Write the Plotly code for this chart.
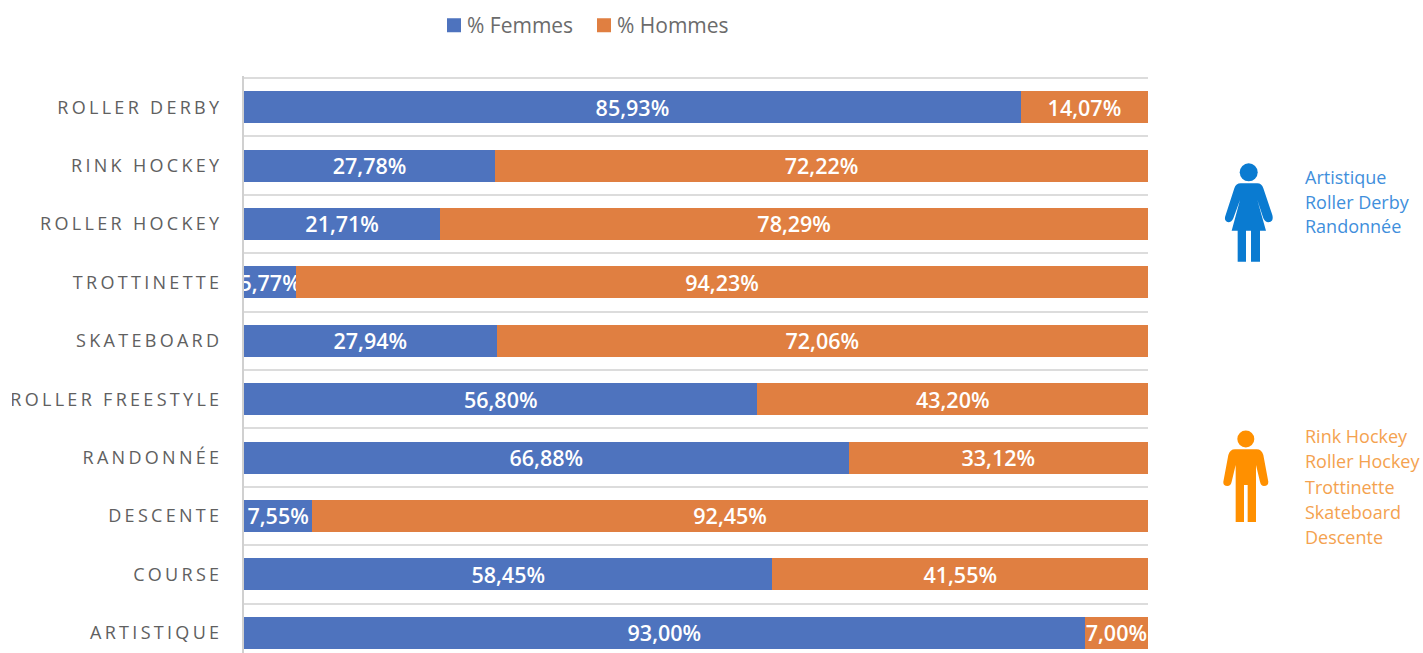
import plotly.graph_objects as go

categories = ["ARTISTIQUE", "COURSE", "DESCENTE", "RANDONNÉE", "ROLLER FREESTYLE",
              "SKATEBOARD", "TROTTINETTE", "ROLLER HOCKEY", "RINK HOCKEY", "ROLLER DERBY"]
femmes = [93.00, 58.45, 7.55, 66.88, 56.80, 27.94, 5.77, 21.71, 27.78, 85.93]
hommes = [7.00, 41.55, 92.45, 33.12, 43.20, 72.06, 94.23, 78.29, 72.22, 14.07]
femmes_sports = ["Artistique", "Roller Derby", "Randonnée"]
hommes_sports = ["Rink Hockey", "Roller Hockey", "Trottinette", "Skateboard", "Descente"]
femmes_sport_y = [177, 202, 226]
hommes_sport_y = [436, 461, 487, 512, 537]

W, H = 1423, 653
L, R, T = 244, 1148, 76
FONT = "Open Sans"

def px(x):
    return (x - L) / (R - L)

def py(y):
    return (H - y) / (H - T)

def icon(segments, ox, oy):
    out = []
    for seg in segments:
        cmd, nums = seg[0], seg[1:]
        pts = [f"{px(ox + nums[i] / 3):.5f},{py(oy + nums[i + 1] / 3):.5f}" for i in range(0, len(nums), 2)]
        out.append(cmd + " " + " ".join(pts))
    return " ".join(out) + " Z"

female_path = [("M",182,130),("L",232,130),("Q",245,130,250,145),("L",277,225),("Q",282,245,265,247),
    ("Q",256,247,250,235),("L",232,180),("L",258,272),("L",240,272),("L",240,365),("L",213,365),
    ("L",213,272),("L",198,272),("L",198,365),("L",173,365),("L",173,272),("L",155,272),("L",180,180),
    ("L",160,235),("Q",155,247,145,247),("Q",130,243,137,225),("L",163,145),("Q",168,130,182,130)]
male_path = [("M",165,118),("L",230,118),("Q",245,118,250,135),("L",265,215),("Q",265,228,252,228),
    ("Q",243,228,240,215),("L",228,165),("L",228,336),("L",203,336),("L",203,225),("L",192,225),
    ("L",192,336),("L",167,336),("L",167,165),("L",155,215),("Q",152,228,142,228),("Q",129,228,130,215),
    ("L",145,135),("Q",150,118,165,118)]

BLUE_ICON, ORANGE_ICON = "#0a7bd1", "#ff9000"
shapes = [
    dict(type="path", xref="paper", yref="paper", path=icon(female_path, 1180, 140), fillcolor=BLUE_ICON, line_width=0),
    dict(type="circle", xref="paper", yref="paper", x0=px(1239.7), x1=px(1257.7), y0=py(181.3), y1=py(163.3), fillcolor=BLUE_ICON, line_width=0),
    dict(type="path", xref="paper", yref="paper", path=icon(male_path, 1180, 410), fillcolor=ORANGE_ICON, line_width=0),
    dict(type="circle", xref="paper", yref="paper", x0=px(1237.3), x1=px(1254.3), y0=py(447.5), y1=py(430.5), fillcolor=ORANGE_ICON, line_width=0),
    dict(type="rect", xref="paper", yref="paper", x0=px(0), x1=px(12), y0=py(410), y1=py(385), fillcolor="white", line_width=0, layer="above"),
]

annotations = []
for txt, y in zip(femmes_sports, femmes_sport_y):
    annotations.append(dict(text=txt, x=px(1305), y=py(y), xref="paper", yref="paper", xanchor="left", xshift=-2,
                            yanchor="middle", showarrow=False, font=dict(family=FONT, size=18, color="#3f8fdc")))
for txt, y in zip(hommes_sports, hommes_sport_y):
    annotations.append(dict(text=txt, x=px(1305), y=py(y), xref="paper", yref="paper", xanchor="left", xshift=-2,
                            yanchor="middle", showarrow=False, font=dict(family=FONT, size=18, color="#f4a24f")))

def series(name, values, color):
    return go.Bar(name=name, y=categories, x=values, orientation="h", marker=dict(color=color, line_width=0),
                  texttemplate="%{x:.2f}%", textposition="inside", insidetextanchor="middle", textangle=0,
                  constraintext="none", cliponaxis=True,
                  textfont=dict(family=FONT, size=21.5, color="white", weight=600), hoverinfo="skip")

fig = go.Figure([series("% Femmes", femmes, "#4e73be"), series("% Hommes", hommes, "#e07f41")])
fig.update_layout(
    width=W, height=H, barmode="stack", bargap=0.45, separators=", ",
    margin=dict(l=L, r=W - R, t=T, b=0), paper_bgcolor="white", plot_bgcolor="white",
    font=dict(family=FONT), shapes=shapes, annotations=annotations,
    legend=dict(orientation="h", x=px(434), y=py(5), xanchor="left", yanchor="top", entrywidth=105,
                font=dict(family=FONT, size=21, color="#6b6b6b"), traceorder="normal", itemclick=False, itemdoubleclick=False),
)
fig.update_xaxes(range=[0, 100], visible=False, showgrid=False, fixedrange=True)
fig.update_yaxes(type="category", categoryorder="array", categoryarray=categories,
                 range=[-0.346, 9.534], tickson="boundaries", showgrid=True, gridcolor="#dcdcdc", gridwidth=2,
                 showline=True, linecolor="#d0d0d0", linewidth=2, ticks="", zeroline=False, fixedrange=True,
                 ticklabelstandoff=16, tickfont=dict(family=FONT, size=18, color="#606060"))

post = """
var s=document.createElement('style');
s.textContent='html,body{margin:0;padding:0;overflow:hidden}.ytick text{letter-spacing:3.3px}.legend .legendtext{transform:translateX(-7px)}';
document.head.appendChild(s);
setTimeout(function(){document.querySelectorAll('.legend .legendpoints path').forEach(function(p){p.style.stroke=p.style.fill;p.style.strokeWidth='2px';});},0);
"""
fig.write_html("out.html", config=dict(displayModeBar=False), post_script=post)
